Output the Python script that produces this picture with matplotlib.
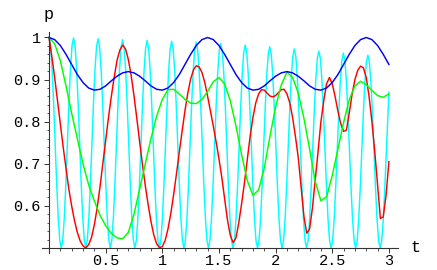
import numpy as np
import matplotlib
matplotlib.use("Agg")
import matplotlib.pyplot as plt

# ---------------- data ----------------
blue_t = np.arange(61) * 0.05
blue_p = [1.000, 0.995, 0.981, 0.960, 0.936, 0.912, 0.893, 0.880, 0.875, 0.877,
          0.885, 0.897, 0.908, 0.916, 0.919, 0.916, 0.908, 0.897, 0.885, 0.877,
          0.875, 0.880, 0.893, 0.912, 0.936, 0.960, 0.981, 0.995, 1.000, 0.995,
          0.981, 0.960, 0.936, 0.912, 0.893, 0.880, 0.875, 0.877, 0.885, 0.897,
          0.908, 0.916, 0.919, 0.916, 0.908, 0.897, 0.885, 0.877, 0.875, 0.880,
          0.893, 0.912, 0.936, 0.960, 0.981, 0.995, 1.000, 0.995, 0.981, 0.960,
          0.936]

green_t = np.arange(61) * 0.05
green_p = [1.000, 0.985, 0.945, 0.885, 0.820, 0.760, 0.700, 0.650, 0.612, 0.578,
           0.553, 0.535, 0.524, 0.522, 0.537, 0.580, 0.640, 0.700, 0.760, 0.813,
           0.853, 0.876, 0.877, 0.866, 0.853, 0.844, 0.843, 0.853, 0.872, 0.895,
           0.905, 0.890, 0.850, 0.790, 0.722, 0.660, 0.625, 0.638, 0.690, 0.765,
           0.835, 0.887, 0.918, 0.905, 0.868, 0.808, 0.735, 0.658, 0.612, 0.622,
           0.672, 0.735, 0.798, 0.852, 0.885, 0.896, 0.888, 0.874, 0.862, 0.858,
           0.866]

red_t = np.arange(121) * 0.025
red_p = [1.000, 0.955, 0.905, 0.850, 0.795, 0.740, 0.690, 0.640, 0.600, 0.565,
         0.537, 0.517, 0.505, 0.500, 0.508, 0.525, 0.555, 0.595, 0.645, 0.700,
         0.755, 0.810, 0.860, 0.905, 0.945, 0.970, 0.982, 0.973, 0.948, 0.910,
         0.862, 0.808, 0.752, 0.698, 0.648, 0.603, 0.563, 0.531, 0.510, 0.501,
         0.503, 0.518, 0.545, 0.582, 0.627, 0.676, 0.728, 0.778, 0.826, 0.868,
         0.901, 0.923, 0.933, 0.930, 0.917, 0.893, 0.860, 0.825, 0.790, 0.752,
         0.712, 0.668, 0.617, 0.567, 0.530, 0.513, 0.524, 0.560, 0.605, 0.655,
         0.710, 0.765, 0.810, 0.845, 0.866, 0.876, 0.875, 0.868, 0.861, 0.859,
         0.862, 0.869, 0.876, 0.877, 0.866, 0.845, 0.810, 0.765, 0.715, 0.645,
         0.575, 0.535, 0.545, 0.595, 0.662, 0.730, 0.800, 0.850, 0.890, 0.905,
         0.890, 0.860, 0.825, 0.795, 0.777, 0.780, 0.820, 0.865, 0.900, 0.922,
         0.932, 0.928, 0.905, 0.860, 0.800, 0.730, 0.650, 0.570, 0.574, 0.625,
         0.705]

cyan_p = [
    1.000, 0.981, 0.927, 0.846, 0.750, 0.654, 0.573, 0.519, 0.500, 0.519, 0.573, 0.654, 0.750, 0.845, 0.926, 0.980,
    0.999, 0.980, 0.926, 0.845, 0.750, 0.654, 0.573, 0.519, 0.500, 0.519, 0.573, 0.653, 0.749, 0.844, 0.924, 0.978,
    0.997, 0.978, 0.924, 0.844, 0.749, 0.653, 0.573, 0.519, 0.500, 0.519, 0.572, 0.653, 0.748, 0.842, 0.923, 0.976,
    0.995, 0.976, 0.923, 0.842, 0.748, 0.653, 0.572, 0.519, 0.500, 0.519, 0.572, 0.652, 0.747, 0.841, 0.921, 0.974,
    0.993, 0.974, 0.921, 0.841, 0.747, 0.652, 0.572, 0.519, 0.500, 0.519, 0.572, 0.652, 0.746, 0.839, 0.919, 0.972,
    0.991, 0.972, 0.919, 0.839, 0.746, 0.652, 0.572, 0.519, 0.500, 0.519, 0.572, 0.651, 0.745, 0.838, 0.917, 0.970,
    0.989, 0.970, 0.917, 0.838, 0.745, 0.651, 0.572, 0.519, 0.500, 0.519, 0.571, 0.650, 0.743, 0.836, 0.915, 0.967,
    0.986, 0.967, 0.915, 0.836, 0.743, 0.650, 0.571, 0.519, 0.500, 0.518, 0.571, 0.649, 0.741, 0.833, 0.911, 0.964,
    0.982, 0.964, 0.911, 0.833, 0.741, 0.649, 0.571, 0.518, 0.500, 0.518, 0.570, 0.648, 0.739, 0.830, 0.908, 0.960,
    0.978, 0.960, 0.908, 0.830, 0.739, 0.648, 0.570, 0.518, 0.500, 0.518, 0.569, 0.646, 0.737, 0.827, 0.904, 0.955,
    0.973, 0.955, 0.904, 0.827, 0.737, 0.646, 0.569, 0.518, 0.500, 0.518, 0.569, 0.644, 0.734, 0.824, 0.899, 0.950,
    0.968, 0.950, 0.899, 0.824, 0.734, 0.644, 0.569, 0.518, 0.500, 0.518, 0.568, 0.643, 0.732, 0.820, 0.895, 0.945,
    0.963, 0.945, 0.895, 0.820, 0.732, 0.643, 0.568, 0.518, 0.500, 0.517, 0.567, 0.641, 0.729, 0.817, 0.891, 0.941,
    0.958, 0.941, 0.891, 0.817, 0.729, 0.641, 0.567, 0.517, 0.500, 0.517, 0.566, 0.640, 0.727, 0.813,
    0.870]
cyan_dt = 0.2165 / 16
cyan_t = np.append(np.arange(len(cyan_p) - 1) * cyan_dt, 3.0)

x_ticks = [0.5, 1, 1.5, 2, 2.5, 3]
x_labels = ["0.5", "1", "1.5", "2", "2.5", "3"]
y_ticks = [0.6, 0.7, 0.8, 0.9, 1.0]
y_labels = ["0.6", "0.7", "0.8", "0.9", "1"]

# ---------------- figure ----------------
W, H = 437, 270
fig = plt.figure(figsize=(W / 100, H / 100), dpi=100)
ax = fig.add_axes([42 / W, (H - 253) / H, (398 - 42) / W, (253 - 32) / H])
ax.set_xlim(-0.0618, 3.0803)
ax.set_ylim(0.48812, 1.01306)

lw = 1.05
ax.plot(cyan_t, cyan_p, color="#00FFFF", lw=lw)
ax.plot(red_t, red_p, color="#FF0000", lw=lw)
ax.plot(green_t, green_p, color="#00FF00", lw=lw)
ax.plot(blue_t, blue_p, color="#0000FF", lw=lw)

for s in ["top", "right"]:
    ax.spines[s].set_visible(False)
ax.spines["left"].set_position(("data", 0))
ax.spines["bottom"].set_position(("data", 0.5))
for s in ["left", "bottom"]:
    ax.spines[s].set_linewidth(0.8)
    ax.spines[s].set_color("#333333")

mono = "Liberation Mono"
ax.set_xticks(x_ticks)
ax.set_xticklabels(x_labels, fontfamily=mono, fontsize=11)
ax.set_yticks(y_ticks)
ax.set_yticklabels(y_labels, fontfamily=mono, fontsize=11)
ax.set_xticks([v / 10 for v in range(1, 30) if v % 5 != 0], minor=True)
ax.set_yticks([0.5 + v / 50 for v in range(1, 26) if v % 5 != 0], minor=True)
ax.tick_params(which="major", direction="out", length=3.5, width=0.7, color="#333333")
ax.tick_params(axis="x", which="major", pad=1.0)
ax.tick_params(axis="y", which="major", pad=2.5)
ax.tick_params(which="minor", direction="out", length=1.8, width=0.6, color="#333333")

fig.text(49 / W, 1 - 14 / H, "p", fontfamily=mono, fontsize=12, ha="center", va="center")
fig.text(416 / W, 1 - 247 / H, "t", fontfamily=mono, fontsize=12, ha="center", va="center")

fig.savefig("out.png", dpi=100)
